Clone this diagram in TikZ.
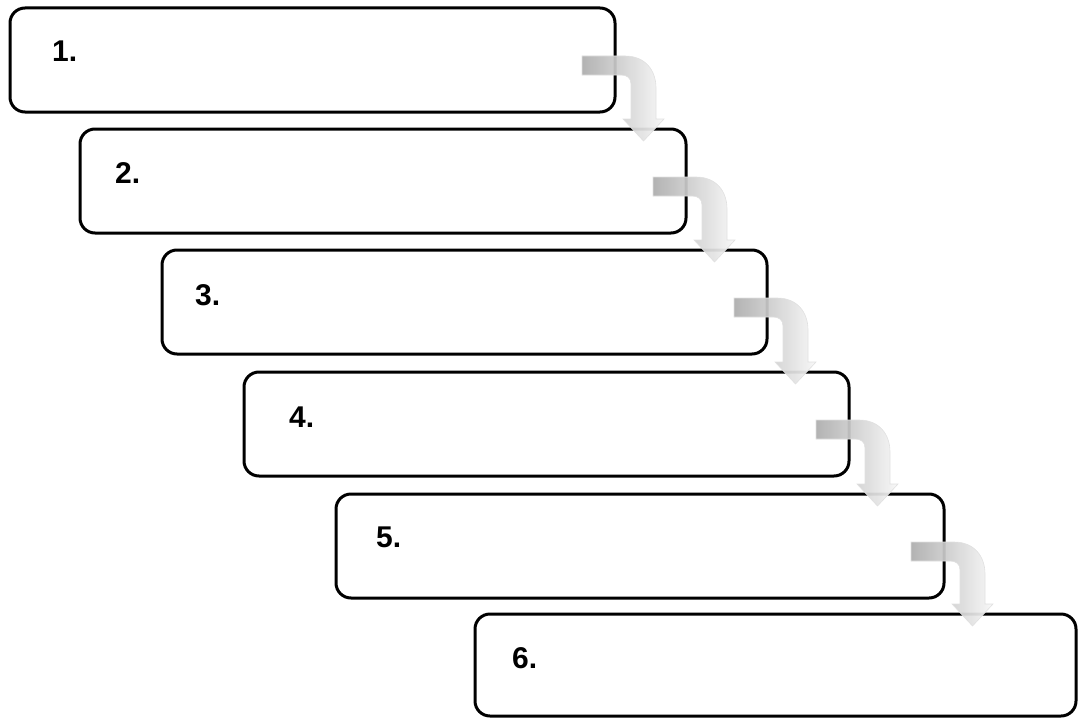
\documentclass[tikz,border=0pt]{standalone}
\usepackage{fontspec}
\setmainfont{Liberation Sans}
\usetikzlibrary{calc}
\tikzset{
  box/.style={draw=black, line width=3pt, rounded corners=15pt, fill=white,
    minimum height=104pt, inner sep=0pt, outer sep=0pt, anchor=north west},
  num/.style={font=\bfseries\fontsize{30}{36}\selectfont, inner sep=0pt, anchor=base west},
  bent/.style={left color=black!32, right color=black!3, shading angle=90,
    draw=black!12, line width=0.6pt, fill opacity=0.93}
}
\newcommand{\bentarrow}[2]{%
  \coordinate (c) at (#1.north east);
  \coordinate (n) at (c |- #2.north);
  \path[bent]
    ($(c)+(-33,48)$) -- ($(c)+(10,48)$)
    .. controls ($(c)+(30,48)$) and ($(c)+(41,62)$) .. ($(c)+(41,80)$)
    -- ($(n)+(41,-10)$) -- ($(n)+(49,-10)$) -- ($(n)+(28.5,12)$)
    -- ($(n)+(8,-10)$) -- ($(n)+(16,-10)$) -- ($(c)+(16,76)$)
    .. controls ($(c)+(16,70)$) and ($(c)+(12,67)$) .. ($(c)+(6,67)$)
    -- ($(c)+(-33,67)$) -- cycle;
}
\begin{document}
\begin{tikzpicture}[x=1pt,y=-1pt]
\useasboundingbox (0,0) rectangle (1078,717);
\node[box, minimum width=605pt] (b1) at (10,8) {};
\node[box, minimum width=606pt] (b2) at (80,129) {};
\node[box, minimum width=605pt] (b3) at (162,250) {};
\node[box, minimum width=605pt] (b4) at (244,372) {};
\node[box, minimum width=608pt] (b5) at (336,494) {};
\node[box, minimum width=601pt, minimum height=102pt] (b6) at (475,614) {};
\node[num] (t1) at (52,61) {1.};
\node[num] (t2) at (115,183) {2.};
\node[num] (t3) at (195,305) {3.};
\node[num] (t4) at (289,427) {4.};
\node[num] (t5) at (376,547) {5.};
\node[num] (t6) at (512,668) {6.};
\bentarrow{b1}{b2}
\bentarrow{b2}{b3}
\bentarrow{b3}{b4}
\bentarrow{b4}{b5}
\bentarrow{b5}{b6}
\end{tikzpicture}
\end{document}
